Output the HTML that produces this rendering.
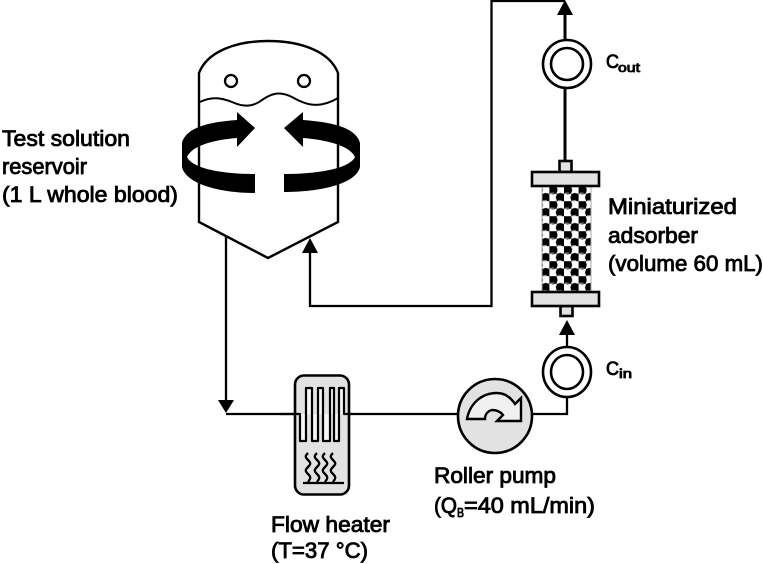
<!DOCTYPE html>
<html><head><meta charset="utf-8">
<style>
html,body{margin:0;padding:0;background:#fff;width:763px;height:564px;overflow:hidden}
svg{display:block;filter:blur(.35px)}
text{font-family:"Liberation Sans",sans-serif;font-size:22px;fill:#000;stroke:#000;stroke-width:.85px}
</style></head><body>
<svg width="763" height="564" viewBox="0 0 763 564" xmlns="http://www.w3.org/2000/svg">
<defs>
<pattern id="p" x="549.4" y="186.200" width="14.6" height="15" patternUnits="userSpaceOnUse">
<rect width="14.6" height="15" fill="#fff"/>
<rect x="0" y="0" width="7.3" height="7.5" fill="#000"/>
<rect x="7.3" y="7.5" width="7.3" height="7.5" fill="#000"/>
<circle cx="3.65" cy="3.75" r="4.5" fill="#000"/>
<circle cx="10.95" cy="11.25" r="4.5" fill="#000"/>
<rect x="1" y="6.4" width="4" height="1.100" fill="#999"/>
<rect x="8.3" y="13.900" width="4" height="1.100" fill="#999"/>
</pattern>
</defs>
<g fill="none" stroke="#000" stroke-width="2.300">
<!-- reservoir -->
<path d="M199 222V73C207 52 235 41 268 41C302 41 330 52 338 73V222L268 258Z" fill="#fff" stroke-width="2.400"/>
<circle cx="231" cy="81" r="6"/><circle cx="304" cy="81" r="6"/>
<path d="M200 102C212 96 222 98 232 102C245 108 254 106 262 100C272 93 280 91 292 97C304 104 318 110 338 98" stroke-width="2"/>
<!-- connectors -->
<path d="M226 236V404M226 414H296"/>
<path d="M310 252V306H491.500V1H565"/>
<path d="M348 414H460"/>
<path d="M532 414H567V396"/>
<path d="M567 348V332"/>
<path d="M565 14V40M565 88V162" stroke-width="3"/>
</g>
<g fill="#000">
<path d="M310 238L318 253H302Z"/>
<path d="M226 413L218 400H234Z"/>
<path d="M565 0L573 15H557Z"/>
<path d="M567 320L575 335H559Z" />
<!-- rotation arrows -->
<path d="M255 128L237 112V120C210 122 186 127 182 143V167C186 184 220 193 255 193V174C220 174 192 168 187 157C192 146 212 140 237 138V147Z"/>
<path d="M284 128L303 112V120C330 122 356 127 360 143V167C356 184 320 192 284 192V174C320 174 350 168 355 157C350 146 328 140 303 138V147Z"/>
</g>
<!-- sensors -->
<g fill="#fff" stroke="#000" stroke-width="2.600">
<circle cx="567" cy="64" r="24"/><circle cx="567" cy="64" r="16"/>
<ellipse cx="567" cy="372" rx="24" ry="25"/><ellipse cx="567" cy="372" rx="16" ry="17"/>
</g>
<!-- adsorber -->
<rect x="542" y="186" width="49" height="106" fill="url(#p)" stroke="#aaa" stroke-width="1"/>
<g fill="#e2e2e2" stroke="#000" stroke-width="2.600">
<rect x="559.500" y="161" width="12" height="11"/>
<rect x="560.500" y="306" width="12" height="10"/>
<rect x="532" y="172" width="67" height="14"/>
<rect x="532" y="292" width="67" height="14"/>
</g>
<!-- heater -->
<rect x="295" y="375.500" width="54" height="119" rx="9" fill="#e2e2e2" stroke="#000" stroke-width="2.600"/>
<path d="M295 414H300V441H306V388H312V441H318V388H323V441H330V388H334V441H339V388H344V414H349" fill="#f6f6f6" stroke="#000" stroke-width="2.200" stroke-linejoin="round"/>
<path d="M280 414H296M348 414H352" stroke="#000" stroke-width="2.300"/>
<g fill="none" stroke="#000" stroke-width="2.300">
<path d="M308 453c-3 3-3 4 0 7s3 4 0 7s-3 4 0 7s3 4 0 8"/>
<path d="M317 453c-3 3-3 4 0 7s3 4 0 7s-3 4 0 7s3 4 0 8"/>
<path d="M325 453c-3 3-3 4 0 7s3 4 0 7s-3 4 0 7s3 4 0 8"/>
<path d="M333 453c-3 3-3 4 0 7s3 4 0 7s-3 4 0 7s3 4 0 8"/>
<path d="M303 483H344"/>
</g>
<!-- pump -->
<circle cx="495" cy="416" r="37" fill="#e2e2e2" stroke="#000" stroke-width="2.600"/>
<path d="M467 419C470 403 482 393 497 393C505 393 511 398 515 404L521 398V421H497L503 415C500 411 496 410 492 410C488 411 485 414 485 419Z" fill="#f0f0f0" stroke="#000" stroke-width="2.400" stroke-linejoin="miter"/>
<!-- labels -->
<text x="2" y="146" textLength="128" lengthAdjust="spacingAndGlyphs">Test solution</text>
<text x="2" y="174" textLength="85" lengthAdjust="spacingAndGlyphs">reservoir</text>
<text x="2" y="202" textLength="176" lengthAdjust="spacingAndGlyphs">(1 L whole blood)</text>
<text x="608" y="214" textLength="129" lengthAdjust="spacingAndGlyphs">Miniaturized</text>
<text x="608" y="243" textLength="90" lengthAdjust="spacingAndGlyphs">adsorber</text>
<text x="608" y="271" textLength="155" lengthAdjust="spacingAndGlyphs">(volume 60 mL)</text>
<text x="434" y="483" textLength="122" lengthAdjust="spacingAndGlyphs">Roller pump</text>
<text x="434" y="513" textLength="23" lengthAdjust="spacingAndGlyphs">(Q</text>
<text x="457" y="517" style="font-size:13px" textLength="7" lengthAdjust="spacingAndGlyphs">B</text>
<text x="464" y="513" textLength="131" lengthAdjust="spacingAndGlyphs">=40 mL/min)</text>
<text x="271" y="532" textLength="119" lengthAdjust="spacingAndGlyphs">Flow heater</text>
<text x="271" y="558" textLength="97" lengthAdjust="spacingAndGlyphs">(T=37 °C)</text>
<text x="606" y="68" style="font-size:19px" textLength="13" lengthAdjust="spacingAndGlyphs">C</text>
<text x="618" y="72" style="font-size:13px" textLength="22" lengthAdjust="spacingAndGlyphs">out</text>
<text x="606" y="375" style="font-size:19px" textLength="13" lengthAdjust="spacingAndGlyphs">C</text>
<text x="619" y="378" style="font-size:13px" textLength="13" lengthAdjust="spacingAndGlyphs">in</text>
</svg>
</body></html>
